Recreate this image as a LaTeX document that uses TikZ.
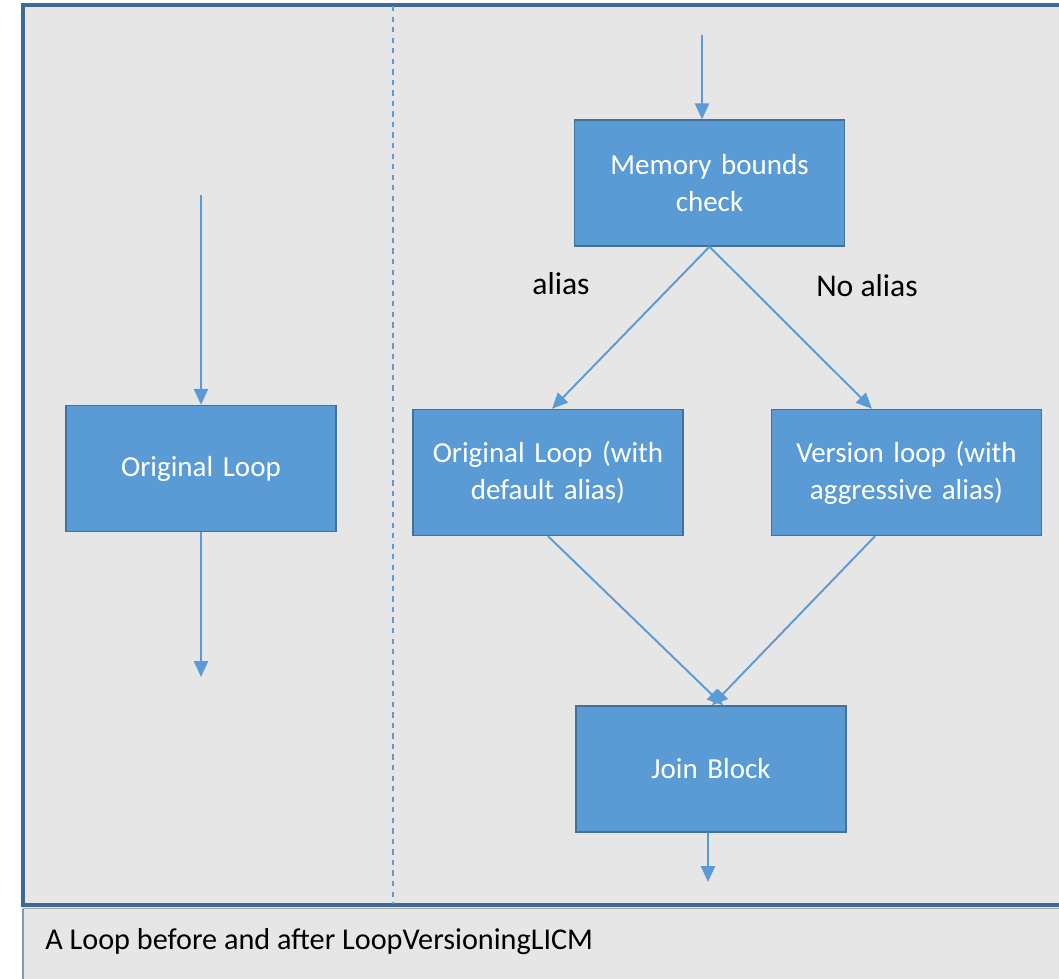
\documentclass[tikz,border=0pt]{standalone}
\usepackage{fontspec}
\setmainfont{Carlito}
\usepackage{tikz}
\usetikzlibrary{arrows.meta, positioning}
\definecolor{boxblue}{HTML}{5B9BD5}
\definecolor{boxedge}{HTML}{41719C}
\definecolor{bggray}{HTML}{E6E6E6}
\definecolor{frameblue}{HTML}{3E6A97}
\tikzstyle{block} = [rectangle, minimum width=5.4cm, minimum height=2.52cm, text width=5cm, align=center, draw=boxedge, line width=0.8pt, fill=boxblue, text=white, font=\fontsize{16.5}{21}\selectfont]
\tikzstyle{arrow} = [draw=boxblue, line width=1.1pt, -{Triangle[width=8pt,length=9pt]}]
\tikzstyle{label} = [font=\fontsize{18}{22}\selectfont, text=black]

\begin{document}
\begin{tikzpicture}[x=0.02cm, y=-0.02cm]
    \useasboundingbox (0,0) rectangle (1059,979);
    % background and frame
    \fill[bggray] (22,4) rectangle (1059,979);
    \draw[frameblue, line width=2pt] (1059,5) -- (23,5) -- (23,905) -- (1059,905);
    \draw[gray!70, line width=0.6pt] (23,908.5) -- (1059,908.5);
    \draw[boxedge!70, line width=0.6pt] (23,909) -- (23,979);
    \draw[boxblue, line width=1.1pt, dashed] (393,6) -- (393,904);

    % before
    \node (orig_loop) [block] at (201,468.5) {Original Loop};
    \coordinate (orig_in) at (201,195);
    \coordinate (orig_out) at (201,677);
    \draw[arrow] (orig_in) -- (orig_loop);
    \draw[arrow] (orig_loop) -- (orig_out);

    % after
    \node (mem_check) [block] at (709.5,183) {Memory bounds\\check};
    \node (def_loop) [block] at (548,472.5) {Original Loop (with\\default alias)};
    \node (ver_loop) [block] at (906.5,472.5) {Version loop (with\\aggressive alias)};
    \node (join_block) [block] at (711,769) {Join Block};
    \coordinate (mem_in) at (702,35);
    \coordinate (join_out) at (708,882);

    \draw[arrow] (mem_in) -- ([xshift=-0.15cm]mem_check.north);
    \draw[arrow] (mem_check.south) -- ([xshift=0.08cm]def_loop.north);
    \draw[arrow] (mem_check.south) -- ([xshift=-0.69cm]ver_loop.north);
    \draw[arrow] (def_loop.south) -- ([xshift=0.24cm]join_block.north);
    \draw[arrow] ([xshift=-0.63cm]ver_loop.south) -- ([xshift=0.02cm]join_block.north);
    \draw[arrow] ([xshift=-0.06cm]join_block.south) -- (join_out);

    \node (alias_lbl) [label] at (561,284) {alias};
    \node (noalias_lbl) [label] at (867,286) {No alias};

    % caption
    \node (caption) [label, font=\fontsize{17.2}{21}\selectfont, anchor=west, inner sep=0pt] at (45,942) {A Loop before and after LoopVersioningLICM};
\end{tikzpicture}
\end{document}
